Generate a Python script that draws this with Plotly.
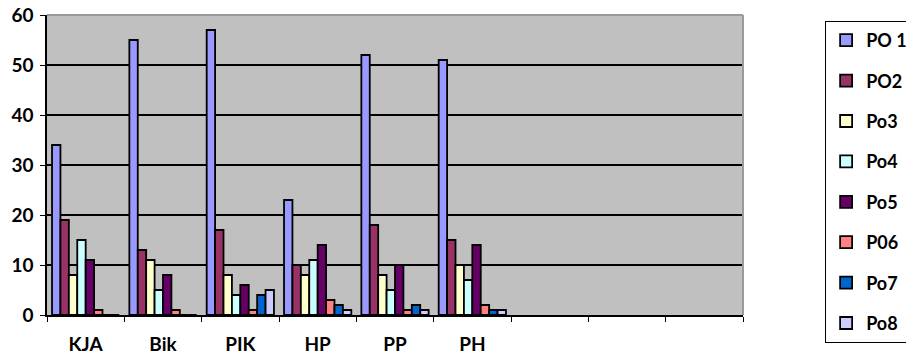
import plotly.graph_objects as go

categories = ["KJA", "Bik", "PIK", "HP", "PP", "PH"]
empty_slots = [" ", "  ", "   "]
series_names = ["PO 1", "PO2", "Po3", "Po4", "Po5", "P06", "Po7", "Po8"]
po1 = [34, 55, 57, 23, 52, 51]
po2 = [19, 13, 17, 10, 18, 15]
po3 = [8, 11, 8, 8, 8, 10]
po4 = [15, 5, 4, 11, 5, 7]
po5 = [11, 8, 6, 14, 10, 14]
po6 = [1, 1, 1, 3, 1, 2]
po7 = [0, 0, 4, 2, 2, 1]
po8 = [0, 0, 5, 1, 1, 1]
y_ticks = [0, 10, 20, 30, 40, 50, 60]

series_values = [po1, po2, po3, po4, po5, po6, po7, po8]
colors = ["#9999FF", "#993366", "#FFFFCC", "#CCFFFF", "#660066", "#FF8080", "#0066CC", "#CCCCFF"]

FONT = "Lato"
fig = go.Figure()
for i, (name, vals) in enumerate(zip(series_names, series_values)):
    fig.add_trace(go.Bar(
        x=categories, y=vals, name=name,
        marker=dict(color=colors[i], line=dict(color="black", width=1.8)),
        legendgroup=name,
    ))

fig.update_layout(
    width=906, height=356,
    margin=dict(l=47, r=163, t=15, b=41, autoexpand=False),
    paper_bgcolor="white",
    plot_bgcolor="#C0C0C0",
    barmode="group",
    bargap=0.13,
    bargroupgap=0,
    font=dict(family=FONT, color="black"),
    showlegend=True,
    legend=dict(
        x=1.118, xanchor="left", y=0.98, yanchor="top",
        bordercolor="black", borderwidth=1,
        font=dict(family=FONT, size=18, color="black", weight="bold"),
        tracegroupgap=14,
        itemwidth=30,
        maxheight=350,
    ),
    xaxis=dict(
        type="category",
        categoryorder="array",
        categoryarray=categories + empty_slots,
        range=[-0.5, 8.5],
        tickson="boundaries",
        ticks="outside", ticklen=5, tickcolor="black", tickwidth=1,
        showline=True, linecolor="black", linewidth=1.5,
        showgrid=False,
        tickfont=dict(family=FONT, size=19, color="black", weight="bold"),
        ticklabelstandoff=11,
    ),
    yaxis=dict(
        range=[0, 60],
        tickvals=y_ticks,
        ticks="outside", ticklen=5, tickcolor="black",
        showline=True, linecolor="black", linewidth=1.5,
        showgrid=True, gridcolor="black", gridwidth=1.6,
        zeroline=False,
        tickfont=dict(family=FONT, size=19, color="black", weight="bold"),
        ticklabelstandoff=3,
    ),
    shapes=[
        dict(type="line", xref="paper", yref="paper", x0=0, x1=1, y0=1, y1=1,
             line=dict(color="#9A9A9A", width=2), layer="above"),
        dict(type="line", xref="paper", yref="paper", x0=1, x1=1, y0=0, y1=1,
             line=dict(color="#9A9A9A", width=2), layer="above"),
    ],
)

fig.write_html(
    "out.html",
    config={"displayModeBar": False},
    post_script="document.body.style.margin='0';document.body.style.overflow='hidden';",
)
